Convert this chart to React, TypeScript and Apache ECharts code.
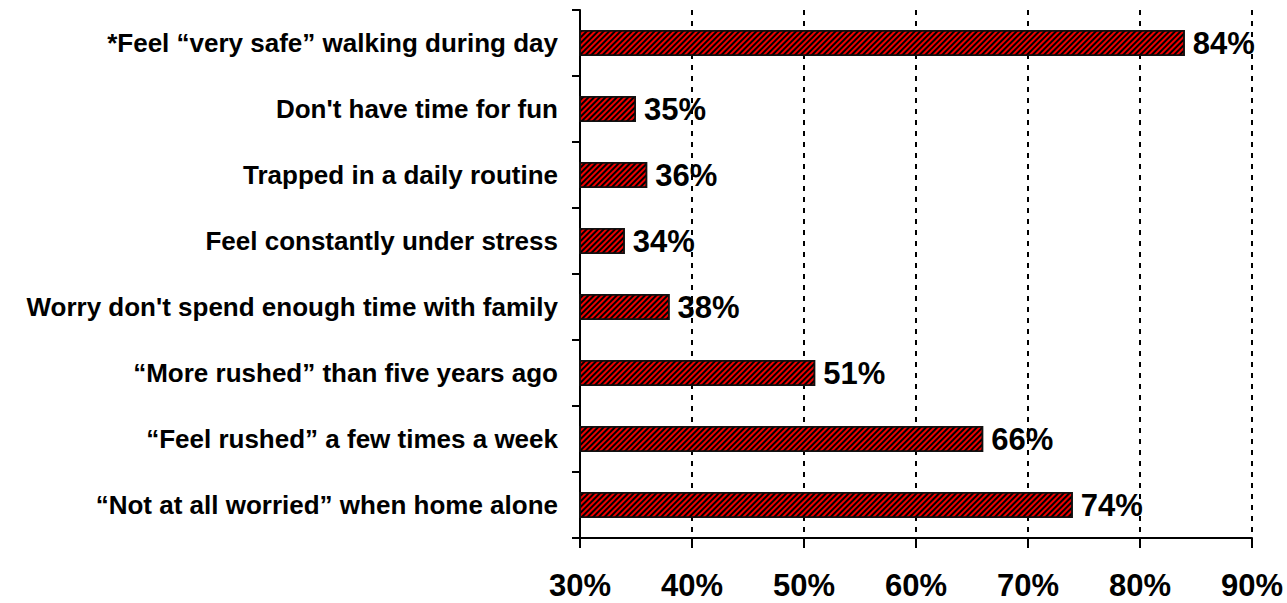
import React, { useEffect, useRef } from "react";
import * as echarts from "echarts";

// Survey items, listed top to bottom
const categories: string[] = [
  "*Feel \u201cvery safe\u201d walking during day",
  "Don't have time for fun",
  "Trapped in a daily routine",
  "Feel constantly under stress",
  "Worry don't spend enough time with family",
  "\u201cMore rushed\u201d than five years ago",
  "\u201cFeel rushed\u201d a few times a week",
  "\u201cNot at all worried\u201d when home alone",
];

// Share of respondents, percent
const values: number[] = [84, 35, 36, 34, 38, 51, 66, 74];

// Horizontal axis range, percent
const axisMin = 30;
const axisMax = 90;
const axisStep = 10;

const FONT = "'Liberation Sans', Arial, Helvetica, sans-serif";

export default function App() {
  const ref = useRef<HTMLDivElement>(null);

  useEffect(() => {
    if (!ref.current) return;
    const chart = echarts.init(ref.current, undefined, { renderer: "svg" });
    chart.setOption({
      animation: false,
      backgroundColor: "#ffffff",
      grid: { left: 580, right: 35, top: 10, bottom: 65, containLabel: false },
      xAxis: {
        type: "value",
        min: axisMin,
        max: axisMax,
        interval: axisStep,
        axisLine: { show: true, lineStyle: { color: "#000", width: 2 } },
        axisTick: { show: true, inside: false, length: 10, lineStyle: { color: "#000", width: 2 } },
        axisLabel: {
          formatter: (v: number) => `${v}%`,
          color: "#000",
          fontFamily: FONT,
          fontWeight: "bold",
          fontSize: 31,
          margin: 32,
        },
        splitLine: {
          show: true,
          lineStyle: { color: "#000", width: 2, type: [5, 6] },
        },
      },
      yAxis: {
        type: "category",
        data: categories,
        inverse: true,
        axisLine: { show: true, lineStyle: { color: "#000", width: 2 } },
        axisTick: { show: true, inside: false, length: 8, lineStyle: { color: "#000", width: 2 } },
        axisLabel: {
          color: "#000",
          fontFamily: FONT,
          fontWeight: "bold",
          fontSize: 26,
          margin: 22,
        },
        splitLine: { show: false },
      },
      series: [
        {
          type: "bar",
          data: values,
          barWidth: 26,
          itemStyle: {
            color: "#ee0000",
            borderColor: "#111",
            borderWidth: 1.5,
            decal: {
              symbol: "rect",
              symbolSize: 1,
              color: "#000",
              dashArrayX: [1, 0],
              dashArrayY: [2, 2],
              rotation: -Math.PI / 4,
            },
          },
          label: {
            show: true,
            position: "right",
            distance: 8,
            formatter: (p: any) => `${p.value}%`,
            color: "#000",
            fontFamily: FONT,
            fontWeight: "bold",
            fontSize: 31,
          },
        },
      ],
    });
    return () => chart.dispose();
  }, []);

  return (
    <div
      ref={ref}
      style={{ position: "absolute", left: 0, top: 0, width: 1287, height: 603 }}
    />
  );
}
